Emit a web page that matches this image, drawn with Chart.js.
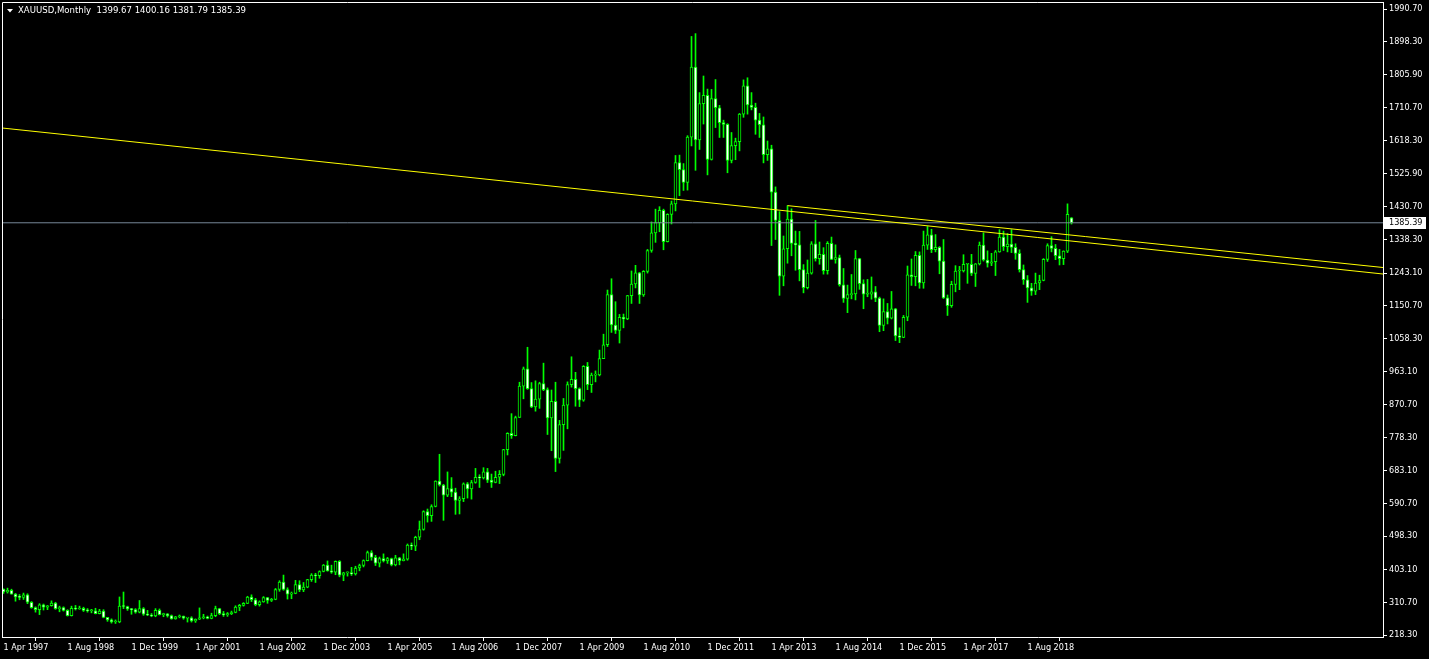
<!DOCTYPE html>
<html><head><meta charset="utf-8">
<script src="https://cdn.jsdelivr.net/npm/chart.js@4.4.1/dist/chart.umd.min.js"></script>
<style>html,body{margin:0;padding:0;background:#000;overflow:hidden}#wrap{width:1429px;height:659px;position:relative}</style>
</head><body><div id="wrap"><canvas id="c" width="1429" height="659"></canvas></div>
<script>
// XAUUSD monthly candles, Apr 1997 .. Jul 2019 (index 0 = Apr 1997)
const chartTitle = 'XAUUSD,Monthly';
const headerValues = ['1399.67', '1400.16', '1381.79', '1385.39'];

const opens = [
  /*1997*/ 348,340,345,334,326,325,332,311,296,
  /*1998*/ 290,304,297,301,309,293,296,288,273,294,292,294,
  /*1999*/ 288,287,287,279,286,268,261,255,255,300,299,292,
  /*2000*/ 290,283,293,277,275,272,288,276,278,273,264,270,
  /*2001*/ 272,266,267,258,263,267,270,265,273,293,279,275,
  /*2002*/ 279,282,297,302,308,326,318,304,312,324,316,319,
  /*2003*/ 347,368,347,334,336,361,346,354,375,388,386,398,
  /*2004*/ 416,400,396,427,388,394,395,391,408,415,429,452,
  /*2005*/ 438,422,435,428,435,417,437,429,433,473,470,495,
  /*2006*/ 517,568,556,582,654,643,614,633,623,599,604,646,
  /*2007*/ 632,650,665,663,680,657,650,665,673,743,789,783,
  /*2008*/ 834,923,972,916,864,886,930,913,833,880,718,814,
  /*2009*/ 869,927,942,916,883,979,927,954,955,1001,1040,1182,
  /*2010*/ 1096,1081,1118,1113,1179,1212,1244,1181,1248,1307,1357,1386,
  /*2011*/ 1421,1332,1409,1439,1556,1536,1500,1628,1826,1620,1723,1746,
  /*2012*/ 1565,1737,1711,1669,1664,1562,1604,1615,1693,1773,1719,1712,
  /*2013*/ 1676,1663,1578,1595,1472,1392,1234,1312,1396,1327,1323,1253,
  /*2014*/ 1202,1243,1326,1284,1296,1250,1327,1282,1287,1210,1171,1182,
  /*2015*/ 1184,1284,1213,1183,1183,1190,1172,1095,1134,1115,1142,1065,
  /*2016*/ 1061,1118,1238,1233,1293,1215,1322,1351,1309,1316,1277,1173,
  /*2017*/ 1151,1211,1249,1249,1268,1268,1242,1269,1322,1280,1271,1275,
  /*2018*/ 1303,1345,1318,1325,1316,1299,1253,1224,1201,1192,1215,1222,
  /*2019*/ 1282,1321,1313,1292,1284,1305,1399.67
];
const highs = [
  /*1997*/ 349,351,348,336,333,337,335,313,298,
  /*1998*/ 307,306,302,315,311,300,298,290,300,302,300,297,
  /*1999*/ 293,291,294,291,290,268,264,261,326,340,300,293,
  /*2000*/ 293,316,296,288,279,293,292,280,279,275,271,275,
  /*2001*/ 272,268,270,264,295,277,272,280,300,294,285,282,
  /*2002*/ 286,301,305,310,328,332,322,315,327,325,322,350,
  /*2003*/ 372,388,352,340,373,372,367,376,392,393,400,418,
  /*2004*/ 428,416,428,429,396,397,410,413,419,431,456,457,
  /*2005*/ 444,439,448,438,436,444,438,448,476,479,498,541,
  /*2006*/ 570,575,587,655,730,645,680,664,634,610,649,650,
  /*2007*/ 656,690,672,692,690,674,682,684,744,791,845,838,
  /*2008*/ 934,977,1033,933,938,934,988,918,912,934,826,888,
  /*2009*/ 935,1006,962,918,981,990,960,966,1025,1070,1195,1227,
  /*2010*/ 1162,1126,1127,1180,1249,1265,1245,1250,1310,1388,1424,1431,
  /*2011*/ 1424,1411,1447,1576,1577,1553,1632,1913,1921,1754,1801,1764,
  /*2012*/ 1763,1791,1718,1676,1666,1641,1625,1695,1790,1796,1754,1724,
  /*2013*/ 1695,1685,1617,1605,1487,1417,1348,1434,1425,1362,1361,1267,
  /*2014*/ 1280,1332,1392,1331,1315,1332,1345,1323,1294,1256,1209,1239,
  /*2015*/ 1307,1285,1224,1225,1232,1205,1175,1170,1157,1191,1143,1088,
  /*2016*/ 1123,1263,1283,1304,1303,1362,1375,1367,1352,1318,1338,1181,
  /*2017*/ 1220,1264,1262,1295,1269,1296,1270,1331,1357,1306,1299,1307,
  /*2018*/ 1366,1362,1355,1366,1326,1309,1266,1236,1214,1243,1237,1284,
  /*2019*/ 1326,1346,1324,1310,1306,1439,1400.16
];
const lows = [
  /*1997*/ 336,337,334,314,318,319,307,294,283,
  /*1998*/ 276,289,290,300,291,284,286,272,272,289,291,285,
  /*1999*/ 283,281,278,278,267,257,252,251,253,293,288,277,
  /*2000*/ 280,281,274,273,270,270,275,270,269,263,263,267,
  /*2001*/ 263,255,255,254,262,264,264,264,270,276,271,271,
  /*2002*/ 276,281,287,300,307,313,301,300,311,308,313,318,
  /*2003*/ 342,345,320,321,335,341,341,352,370,367,379,397,
  /*2004*/ 399,393,389,383,372,385,387,388,400,411,428,430,
  /*2005*/ 415,411,425,421,414,414,417,428,430,460,457,488,
  /*2006*/ 515,538,540,581,640,543,610,610,560,561,596,606,
  /*2007*/ 603,648,636,660,650,636,649,647,669,728,775,782,
  /*2008*/ 834,887,914,862,852,860,910,786,740,681,705,741,
  /*2009*/ 802,920,866,865,880,913,905,935,952,1001,1035,1075,
  /*2010*/ 1072,1045,1088,1111,1157,1201,1157,1177,1243,1302,1330,1360,
  /*2011*/ 1309,1331,1382,1419,1462,1477,1478,1603,1534,1593,1665,1521,
  /*2012*/ 1563,1655,1627,1627,1527,1555,1564,1589,1684,1693,1705,1636,
  /*2013*/ 1627,1555,1562,1321,1338,1180,1207,1271,1292,1251,1221,1187,
  /*2014*/ 1198,1240,1277,1268,1240,1240,1281,1271,1206,1160,1131,1170,
  /*2015*/ 1167,1197,1142,1176,1169,1162,1077,1080,1099,1113,1052,1046,
  /*2016*/ 1060,1108,1208,1207,1200,1200,1310,1301,1303,1241,1171,1123,
  /*2017*/ 1146,1190,1196,1246,1214,1236,1205,1266,1277,1260,1264,1236,
  /*2018*/ 1302,1307,1303,1301,1282,1246,1211,1160,1180,1182,1196,1221,
  /*2019*/ 1276,1303,1281,1266,1267,1301,1381.79
];
const closes = [
  /*1997*/ 340,345,334,326,325,332,311,296,290,
  /*1998*/ 304,297,301,309,293,296,288,273,294,292,294,288,
  /*1999*/ 287,287,279,286,268,261,255,255,300,299,292,290,
  /*2000*/ 283,293,277,275,272,288,276,278,273,264,270,272,
  /*2001*/ 266,267,258,263,267,270,265,273,293,279,275,279,
  /*2002*/ 282,297,302,308,326,318,304,312,324,316,319,347,
  /*2003*/ 368,347,334,336,361,346,354,375,388,386,398,416,
  /*2004*/ 400,396,427,388,394,395,391,408,415,429,452,438,
  /*2005*/ 422,435,428,435,417,437,429,433,473,470,495,517,
  /*2006*/ 568,556,582,654,643,614,633,623,599,604,646,632,
  /*2007*/ 650,665,663,680,657,650,665,673,743,789,783,834,
  /*2008*/ 923,972,916,864,886,930,913,833,880,718,814,869,
  /*2009*/ 927,942,916,883,979,927,954,955,1001,1040,1182,1096,
  /*2010*/ 1081,1118,1113,1179,1212,1244,1181,1248,1307,1357,1386,1421,
  /*2011*/ 1332,1409,1439,1556,1536,1500,1628,1826,1620,1723,1746,1565,
  /*2012*/ 1737,1711,1669,1664,1562,1604,1615,1693,1773,1719,1712,1676,
  /*2013*/ 1663,1578,1595,1472,1392,1234,1312,1396,1327,1323,1253,1202,
  /*2014*/ 1243,1326,1284,1296,1250,1327,1282,1287,1210,1171,1182,1184,
  /*2015*/ 1284,1213,1183,1183,1190,1172,1095,1134,1115,1142,1065,1061,
  /*2016*/ 1118,1238,1233,1293,1215,1322,1351,1309,1316,1277,1173,1151,
  /*2017*/ 1211,1249,1249,1268,1268,1242,1269,1322,1280,1271,1275,1303,
  /*2018*/ 1345,1318,1325,1316,1299,1253,1224,1201,1192,1215,1222,1282,
  /*2019*/ 1321,1313,1292,1284,1305,1409,1385.39
];

const priceTicks = [1990.70,1898.30,1805.90,1710.70,1618.30,1525.90,1430.70,1338.30,1243.10,1150.70,1058.30,963.10,870.70,778.30,683.10,590.70,498.30,403.10,310.70,218.30];
const dateTickIndex = [0,16,32,48,64,80,96,112,128,144,160,176,192,208,224,240,256];
const dateTickLabels = ['1 Apr 1997','1 Aug 1998','1 Dec 1999','1 Apr 2001','1 Aug 2002','1 Dec 2003','1 Apr 2005','1 Aug 2006','1 Dec 2007','1 Apr 2009','1 Aug 2010','1 Dec 2011','1 Apr 2013','1 Aug 2014','1 Dec 2015','1 Apr 2017','1 Aug 2018'];

// trend lines: [monthIndex, price]
const trendLineLong = [[-0.375, 1653.8], [344.875, 1240.4]];
const trendLineShort = [[196, 1434.0], [344.875, 1258.8]];

const X_MIN = -0.375, X_MAX = 344.875;
const Y_MIN = 212.64, Y_MAX = 2010.52;
const FONT = "'DejaVu Sans Condensed','Liberation Sans',sans-serif";
const lastClose = closes[closes.length - 1];

const wickData = highs.map((h, i) => ({x: i, y: [lows[i], h]}));
const bodyData = opens.map((o, i) => ({x: i, y: [Math.min(o, closes[i]), Math.max(o, closes[i])]}));
const bodyFill = opens.map((o, i) => (closes[i] < o ? '#ffffff' : '#000000'));

const zeroPad = (s) => { s.paddingTop = 0; s.paddingBottom = 0; s.paddingLeft = 0; s.paddingRight = 0; };

const framePlugin = {
  id: 'frame',
  afterDraw(chart) {
    const {ctx, chartArea: a, scales} = chart;
    ctx.save();
    ctx.strokeStyle = '#ffffff';
    ctx.lineWidth = 1;
    ctx.beginPath();
    ctx.moveTo(a.left + 0.5, a.bottom);
    ctx.lineTo(a.left + 0.5, a.top + 0.5);
    ctx.lineTo(a.right, a.top + 0.5);
    ctx.stroke();
    // current price label on the price axis
    const y = Math.round(scales.y.getPixelForValue(lastClose));
    ctx.fillStyle = '#ffffff';
    ctx.fillRect(a.right + 1, y - 6, 42, 12);
    ctx.fillStyle = '#000000';
    ctx.font = '9px ' + FONT;
    ctx.textBaseline = 'middle';
    ctx.textAlign = 'left';
    ctx.fillText(lastClose.toFixed(2), a.right + 6, y);
    // header
    ctx.fillStyle = '#ffffff';
    ctx.beginPath();
    ctx.moveTo(7, 9); ctx.lineTo(13, 9); ctx.lineTo(10, 12.5); ctx.closePath();
    ctx.fill();
    ctx.font = '9.5px ' + FONT;
    ctx.fillText(chartTitle + '  ' + headerValues.join(' '), 18, 11);
    ctx.restore();
  }
};

new Chart(document.getElementById('c'), {
  type: 'bar',
  data: {
    datasets: [
      {type: 'line', data: trendLineLong.map(p => ({x: p[0], y: p[1]})), borderColor: '#ffff00', borderWidth: 1, pointRadius: 0, order: 0},
      {type: 'line', data: trendLineShort.map(p => ({x: p[0], y: p[1]})), borderColor: '#ffff00', borderWidth: 1, pointRadius: 0, order: 0},
      {type: 'line', data: [{x: X_MIN, y: lastClose}, {x: X_MAX, y: lastClose}], borderColor: '#778899', borderWidth: 1, pointRadius: 0, order: 0},
      {type: 'bar', data: bodyData, barThickness: 3, backgroundColor: bodyFill, borderColor: '#00ff00', borderWidth: 1, borderSkipped: false, grouped: false, minBarLength: 1, order: 1},
      {type: 'bar', data: wickData, barThickness: 1, backgroundColor: '#00ff00', borderWidth: 0, grouped: false, minBarLength: 1, order: 2}
    ]
  },
  options: {
    responsive: false,
    animation: false,
    events: [],
    layout: {padding: {left: 2, top: 2, right: 0, bottom: 0}},
    plugins: {legend: {display: false}, tooltip: {enabled: false}},
    scales: {
      x: {
        type: 'linear', min: X_MIN, max: X_MAX, offset: false, position: 'bottom',
        grid: {display: true, drawOnChartArea: false, drawTicks: true, tickLength: 4, color: '#ffffff'},
        border: {display: true, color: '#ffffff'},
        ticks: {autoSkip: false, maxRotation: 0, align: 'start', padding: 1, color: '#ffffff', font: {family: FONT, size: 9},
          callback: (v) => { const k = dateTickIndex.indexOf(v); return k >= 0 ? dateTickLabels[k] : ''; }},
        afterBuildTicks: (s) => { s.ticks = dateTickIndex.map(v => ({value: v})); },
        afterFit: (s) => { s.height = 22; zeroPad(s); }
      },
      y: {
        type: 'linear', position: 'right', min: Y_MIN, max: Y_MAX,
        grid: {display: true, drawOnChartArea: false, drawTicks: true, tickLength: 4, color: '#ffffff'},
        border: {display: true, color: '#ffffff'},
        ticks: {padding: 2, color: '#ffffff', font: {family: FONT, size: 9}, callback: (v) => Number(v).toFixed(2)},
        afterBuildTicks: (s) => { s.ticks = priceTicks.map(v => ({value: v})); },
        afterFit: (s) => { s.width = 46; zeroPad(s); }
      }
    }
  },
  plugins: [framePlugin]
});
</script>
</body></html>
